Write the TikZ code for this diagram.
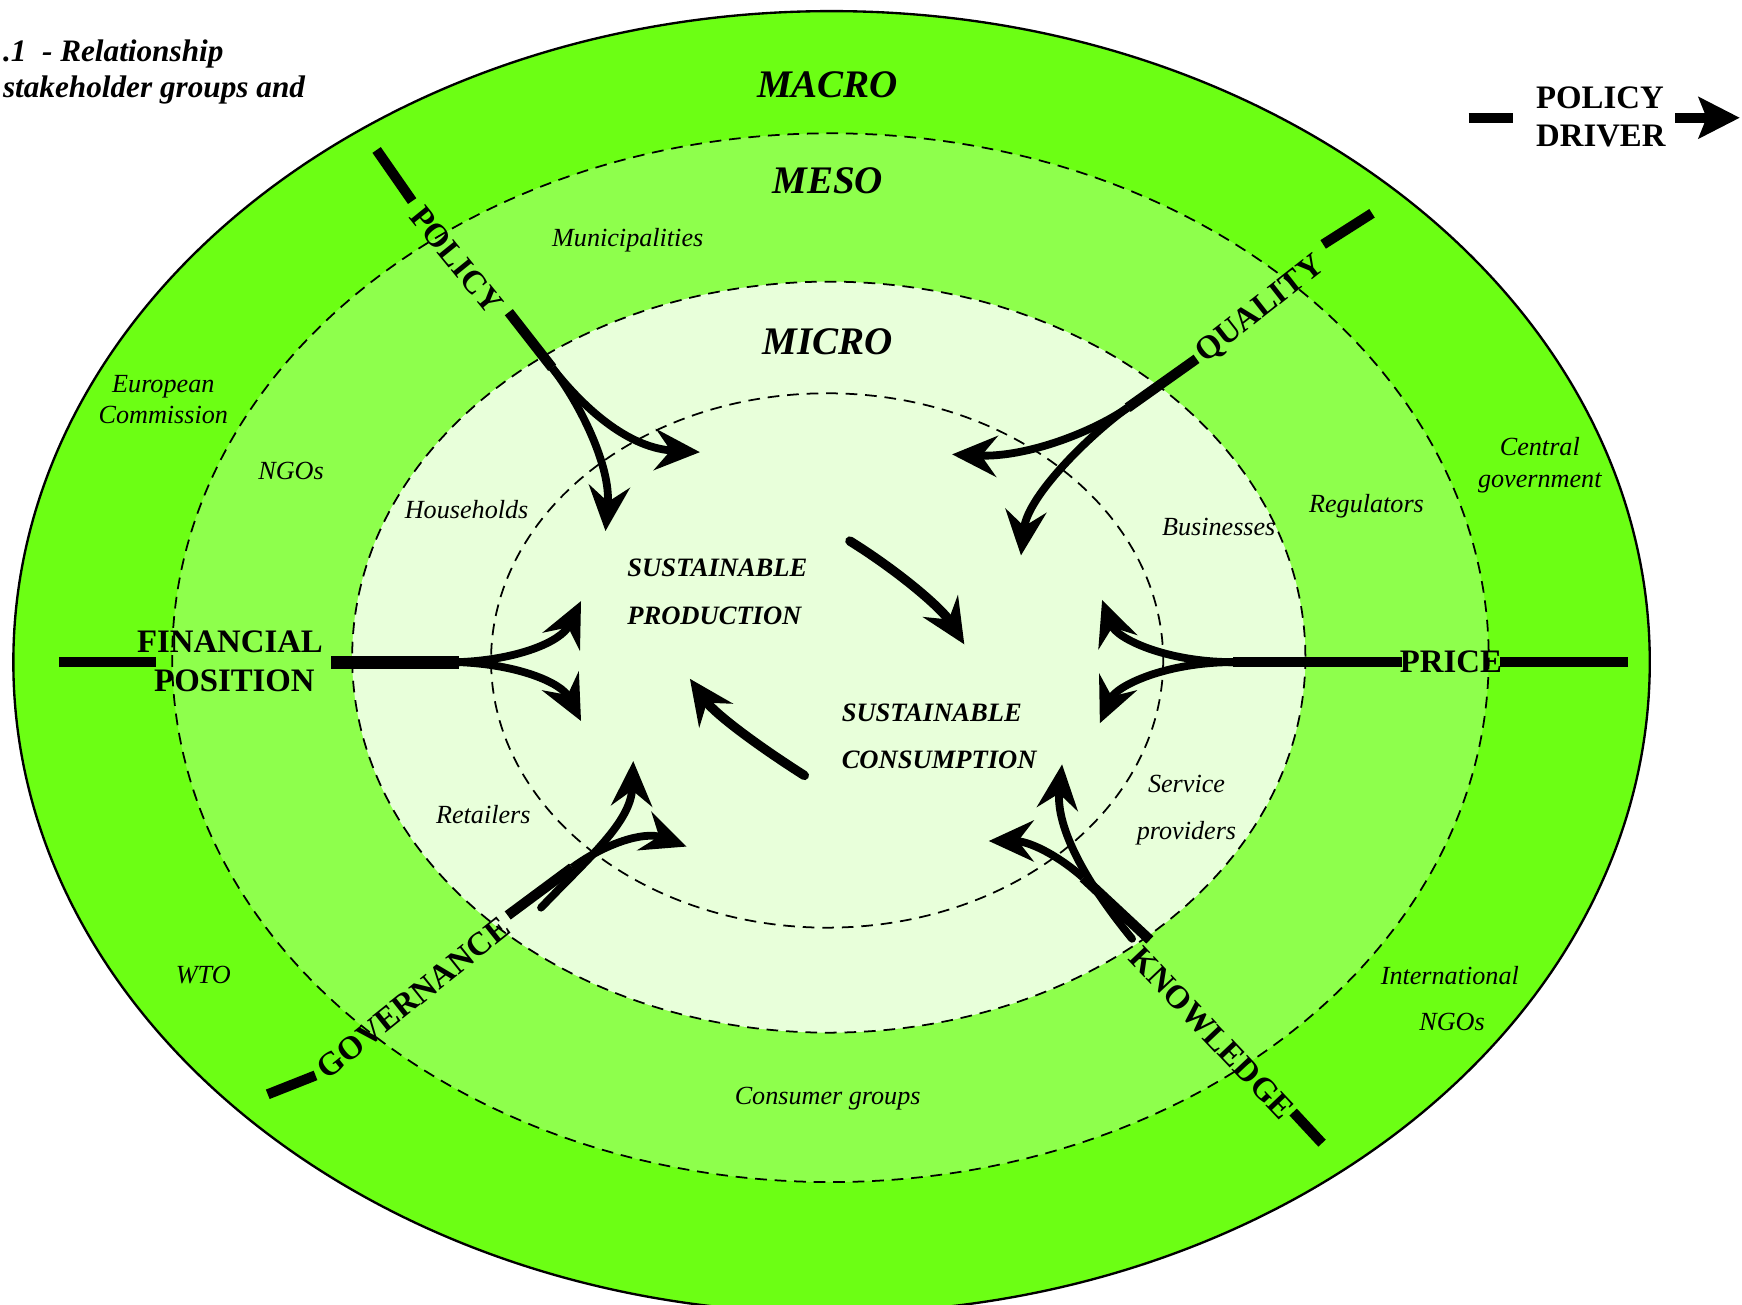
\documentclass[tikz,border=0pt]{standalone}
\usepackage{fontspec}
\setmainfont{Liberation Serif}
\usetikzlibrary{arrows.meta}

\definecolor{macrogreen}{RGB}{108,255,20}
\definecolor{mesogreen}{RGB}{142,255,76}
\definecolor{microgreen}{RGB}{232,255,218}

\tikzset{
  barb/.tip={Stealth[length=11.5pt,width=10.5pt,inset=4pt]},
  ringline/.style={draw=black, line width=0.45pt, dash pattern=on 3pt off 2pt},
  drvlabel/.style={font=\fontsize{8.4}{10}\selectfont\bfseries, inner sep=0pt, text depth=0pt},
  lvllabel/.style={font=\fontsize{10}{12}\selectfont\bfseries\itshape, inner sep=0pt, anchor=base},
  stake/.style={font=\fontsize{6.7}{8}\selectfont\itshape, inner sep=0pt, anchor=base},
  goal/.style={font=\fontsize{6.8}{8}\selectfont\bfseries\itshape, inner sep=0pt, anchor=base west},
  titletext/.style={font=\fontsize{8}{10}\selectfont\bfseries\itshape, inner sep=0pt, anchor=base west},
  stemline/.style={line width=2.6pt},
  heavybar/.style={line width=3.4pt},
  flow/.style={line width=2pt, -barb},
  loopflow/.style={line width=2.4pt, line cap=round, -barb},
}

\begin{document}
\begin{tikzpicture}[x=0.1mm,y=-0.1mm]
\useasboundingbox (0,0) rectangle (1568,1174);
\clip (0,0) rectangle (1568,1174);

% nested levels: macro, meso, micro and the core
\filldraw[fill=macrogreen, line width=0.6pt] (748.5,596) ellipse [x radius=736.5, y radius=586];
\filldraw[fill=mesogreen, ringline] (747.5,592) ellipse [x radius=592.5, y radius=472];
\filldraw[fill=microgreen, ringline] (746,591.5) ellipse [x radius=429, y radius=338];
\draw[ringline] (744.5,594.5) ellipse [x radius=302.5, y radius=240.5];

% title fragment
\node[titletext] (title1) at (2,55) {.1\ \ - Relationship};
\node[titletext] (title2) at (2,88) {stakeholder groups and};

% level names
\node[lvllabel] (macro) at (745,88) {MACRO};
\node[lvllabel] (meso) at (745,174) {MESO};
\node[lvllabel] (micro) at (745,319) {MICRO};

% stakeholder groups
\node[stake] (munic) at (565,222) {Municipalities};
\node[stake] (eurA) at (147,353) {European};
\node[stake] (eurB) at (147,381) {Commission};
\node[stake] (ngoL) at (262,432) {NGOs};
\node[stake] (house) at (420,467) {Households};
\node[stake] (busi) at (1097,482) {Businesses};
\node[stake] (regul) at (1230,461) {Regulators};
\node[stake] (centA) at (1386,410) {Central};
\node[stake] (centB) at (1386,439) {government};
\node[stake] (retail) at (435,741) {Retailers};
\node[stake] (servA) at (1068,713) {Service};
\node[stake] (servB) at (1068,756) {providers};
\node[stake] (wto) at (183,885) {WTO};
\node[stake] (intA) at (1305,886) {International};
\node[stake] (intB) at (1307,928) {NGOs};
\node[stake] (consg) at (745,994) {Consumer groups};

% the two goals at the centre
\node[goal] (prodA) at (564,519) {SUSTAINABLE};
\node[goal] (prodB) at (564,562) {PRODUCTION};
\node[goal] (consA) at (757,649) {SUSTAINABLE};
\node[goal] (consB) at (757,692) {CONSUMPTION};

% policy drivers
\node[drvlabel] (finA) at (207,578) {FINANCIAL};
\node[drvlabel] (finB) at (211,613) {POSITION};
\node[drvlabel] (price) at (1306,596) {PRICE};
\node[drvlabel, rotate=-51] (policy) at (411,234) {POLICY};
\node[drvlabel, rotate=38] (quality) at (1133,277) {QUALITY};
\node[drvlabel, rotate=38.6] (govern) at (372,898) {GOVERNANCE};
\node[drvlabel, rotate=-46.6] (knowl) at (1091,930) {KNOWLEDGE};

% --- POLICY
\coordinate (polOutA) at (339,135);
\coordinate (polOutB) at (371,181);
\coordinate (polIn) at (458,281);
\coordinate (polJ) at (497,331);
\coordinate (polTipA) at (630,407);
\coordinate (polTipB) at (545,478);
\draw[stemline] (polOutA) -- (polOutB);
\draw[stemline] (polIn) -- (polJ);
\draw[flow] (polJ) .. controls (518,358) and (560,403) .. (polTipA);
\draw[flow] (polJ) .. controls (522,363) and (550,420) .. (polTipB);

% --- QUALITY
\coordinate (qualOutA) at (1191,220);
\coordinate (qualOutB) at (1235,192);
\coordinate (qualIn) at (1077,323);
\coordinate (qualJ) at (1015,367);
\coordinate (qualTipA) at (857,409);
\coordinate (qualTipB) at (919,500);
\draw[stemline] (qualOutA) -- (qualOutB);
\draw[stemline] (qualIn) -- (qualJ);
\draw[flow] (qualJ) .. controls (985,388) and (925,412) .. (qualTipA);
\draw[flow] (qualJ) .. controls (985,388) and (925,445) .. (qualTipB);

% --- FINANCIAL POSITION
\coordinate (finOutA) at (53,596);
\coordinate (finOutB) at (140,596);
\coordinate (finIn) at (298,596);
\coordinate (finJ) at (413,596);
\coordinate (finTipA) at (523,541);
\coordinate (finTipB) at (523,649);
\draw[stemline] (finOutA) -- (finOutB);
\draw[heavybar] (finIn) -- (finJ);
\draw[flow] (finJ) .. controls (465,594) and (505,578) .. (finTipA);
\draw[flow] (finJ) .. controls (465,598) and (505,614) .. (finTipB);

% --- PRICE
\coordinate (priOutA) at (1350,596);
\coordinate (priOutB) at (1465,596);
\coordinate (priIn) at (1262,596);
\coordinate (priJ) at (1110,596);
\coordinate (priTipA) at (992,540);
\coordinate (priTipB) at (990,651);
\draw[stemline] (priOutA) -- (priOutB);
\draw[stemline] (priIn) -- (priJ);
\draw[flow] (priJ) .. controls (1050,596) and (1005,575) .. (priTipA);
\draw[flow] (priJ) .. controls (1050,596) and (1005,617) .. (priTipB);

% --- GOVERNANCE
\coordinate (govOutA) at (241,985);
\coordinate (govOutB) at (284,968);
\coordinate (govIn) at (457,824);
\coordinate (govJ) at (515,781);
\coordinate (govTipA) at (618,762);
\coordinate (govB) at (487,817);
\coordinate (govTipB) at (570,685);
\draw[stemline] (govOutA) -- (govOutB);
\draw[stemline] (govIn) -- (govJ);
\draw[flow] (govJ) .. controls (545,759) and (580,748) .. (govTipA);
\draw[flow, line cap=round] (govB) .. controls (530,772) and (568,740) .. (govTipB);

% --- KNOWLEDGE
\coordinate (knoOutA) at (1164,1001);
\coordinate (knoOutB) at (1190,1029);
\coordinate (knoIn) at (1035,846);
\coordinate (knoJ) at (975,790);
\coordinate (knoTipA) at (890,757);
\coordinate (knoB) at (1019,845);
\coordinate (knoTipB) at (956,688);
\draw[stemline] (knoOutA) -- (knoOutB);
\draw[stemline] (knoIn) -- (knoJ);
\draw[flow] (knoJ) .. controls (950,768) and (925,757) .. (knoTipA);
\draw[flow, line cap=round] (knoB) .. controls (978,795) and (950,745) .. (knoTipB);

% --- production / consumption loop
\coordinate (loopA) at (765,487);
\coordinate (loopATip) at (868,580);
\coordinate (loopB) at (724,698);
\coordinate (loopBTip) at (621,611);
\draw[loopflow] (loopA) .. controls (810,515) and (848,548) .. (loopATip);
\draw[loopflow] (loopB) .. controls (680,670) and (643,642) .. (loopBTip);

% --- key
\coordinate (keyDashA) at (1322,106);
\coordinate (keyDashB) at (1362,106);
\coordinate (keyArrA) at (1508,106);
\coordinate (keyArrB) at (1566,106);
\draw[stemline] (keyDashA) -- (keyDashB);
\node[drvlabel, anchor=base west, text depth=] (keyA) at (1382,98) {POLICY};
\node[drvlabel, anchor=base west, text depth=] (keyB) at (1382,132) {DRIVER};
\draw[stemline, -{Stealth[length=10.5pt,width=10.5pt,inset=2pt]}] (keyArrA) -- (keyArrB);
\end{tikzpicture}
\end{document}
